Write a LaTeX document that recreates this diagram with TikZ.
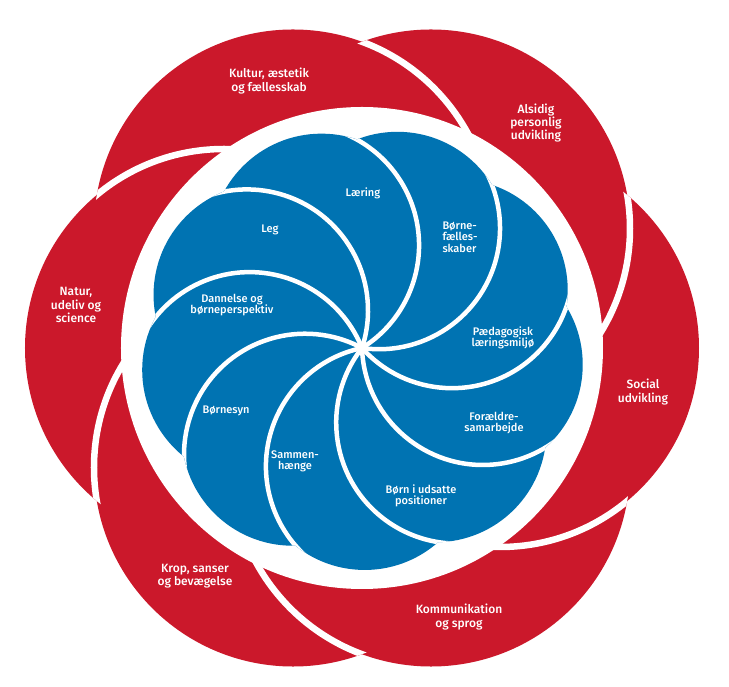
\documentclass[tikz,border=0pt]{standalone}
\usepackage{fontspec}
\setmainfont{Fira Sans}[UprightFont={* Medium}]
\definecolor{ringred}{RGB}{203,24,43}
\definecolor{petalblue}{RGB}{0,115,178}
\begin{document}
\begin{tikzpicture}[x=1pt,y=1pt,
    redlabel/.style={text=white,align=center,font=\fontsize{12}{13.3}\selectfont},
    bluelabel/.style={text=white,align=center,font=\fontsize{11}{11.3}\selectfont},
    redgap/.style={white,line width=6.5pt},
    bluegap/.style={white,line width=4.5pt}]
  \useasboundingbox (-362,-339) rectangle (367,348);
  \coordinate (o) at (0,0);
  \foreach \a in {0,60,...,300}
    \fill[ringred] (\a:138pt) circle[radius=199pt];
  \foreach \a in {0,60,...,300}{
    \begin{scope}
      \clip ({\a-60}:138pt) circle[radius=199pt];
      \draw[redgap] (\a:138pt) circle[radius=199pt];
    \end{scope}}
  \fill[white] (o) circle[radius=241pt];
  \fill[petalblue] \foreach \k in {0,...,8} {({31.4+40*\k}:111pt) circle[radius=111pt]};
  \begin{scope}
    \clip \foreach \k in {0,...,8} {({31.4+40*\k}:111pt) circle[radius=111pt]};
    \foreach \k [evaluate=\k as \b using 1.9+40*\k] in {0,...,8}
      \draw[bluegap] (o) arc[start angle=\b+180,end angle=\b+310,radius=121pt];
  \end{scope}
  \node[bluelabel] (laering) at (1,155) {Læring};
  \node[bluelabel] (leg) at (-92,118) {Leg};
  \node[bluelabel,align=left] (faellesskaber) at (98,111) {Børne-\\fælles-\\skaber};
  \node[bluelabel] (dannelse) at (-130,43) {Dannelse og\\børneperspektiv};
  \node[bluelabel] (miljo) at (141,10) {Pædagogisk\\læringsmiljø};
  \node[bluelabel] (foraeldre) at (132,-75) {Forældre-\\samarbejde};
  \node[bluelabel] (udsatte) at (59,-148) {Børn i udsatte\\positioner};
  \node[bluelabel] (sammenhaenge) at (-67,-113) {Sammen-\\hænge};
  \node[bluelabel] (boernesyn) at (-136,-63) {Børnesyn};
  \node[redlabel] (kultur) at (-93,267) {Kultur, æstetik\\og fællesskab};
  \node[redlabel] (alsidig) at (174,225) {Alsidig\\personlig\\udvikling};
  \node[redlabel] (social) at (281,-44) {Social\\udvikling};
  \node[redlabel] (kommunikation) at (97,-269) {Kommunikation\\og sprog};
  \node[redlabel] (krop) at (-167,-228) {Krop, sanser\\og bevægelse};
  \node[redlabel] (natur) at (-286,43) {Natur,\\udeliv og\\science};
\end{tikzpicture}
\end{document}
